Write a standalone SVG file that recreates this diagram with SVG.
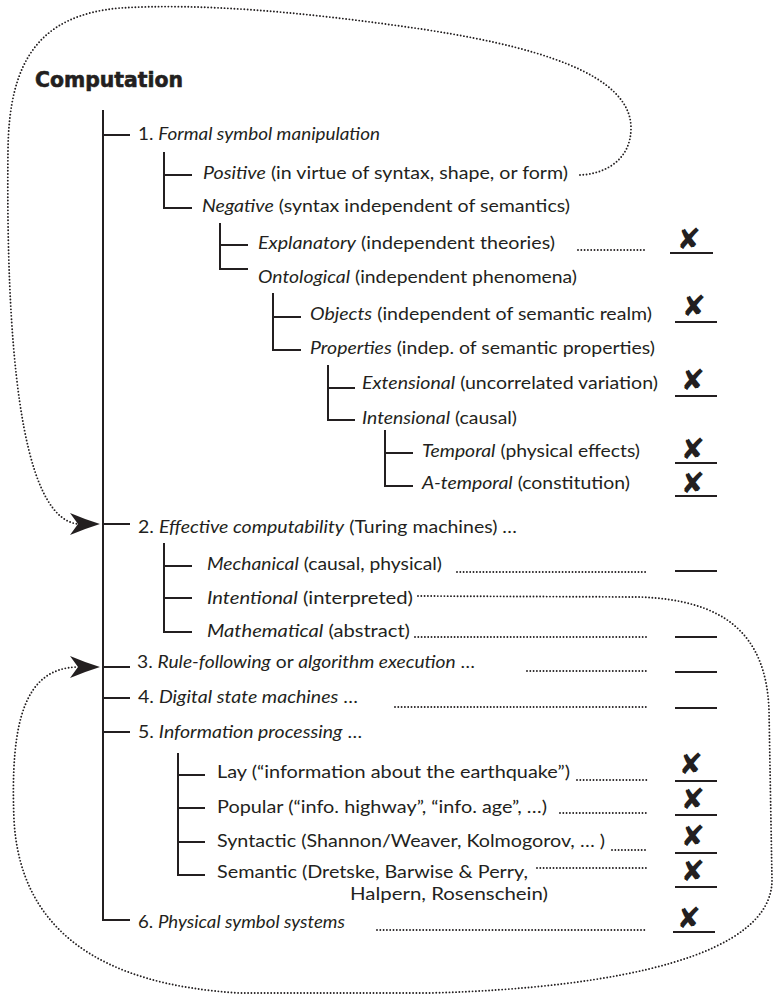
<svg xmlns="http://www.w3.org/2000/svg" width="776" height="994" viewBox="0 0 776 994">
<style>
.t{font-family:Lato,"Open Sans","Liberation Sans",sans-serif;font-size:17px;fill:#231f20}
.i{font-style:italic}
.title{font-family:"DejaVu Sans","Liberation Sans",sans-serif;font-weight:bold;font-size:21px;fill:#231f20;stroke:#231f20;stroke-width:0.6}
.tree{stroke:#231f20;stroke-width:2;fill:none}
.dot{stroke:#231f20;stroke-width:1.9;stroke-dasharray:0 3.3;stroke-linecap:round;fill:none}
.ul{stroke:#231f20;stroke-width:2}
.x{font-family:"DejaVu Sans",sans-serif;font-size:29px;text-anchor:middle;fill:#231f20}
</style>
<defs>
<marker id="arr" markerUnits="userSpaceOnUse" viewBox="0 0 30 22" refX="8" refY="11" markerWidth="30" markerHeight="22" orient="0">
<path d="M30,11 Q14,6 0,0 L8,11 L0,22 Q14,16 30,11 Z" fill="#231f20"/>
</marker>
</defs>
<rect width="776" height="994" fill="#fff"/>

<g id="connectors">
<path class="tree" d="M103,110 V920 H130 M103,135 H130 M103,524 H130 M103,667 H130 M103,698 H130 M103,732 H130"/>
<path class="tree" d="M164,152 V208 H192 M164,175 H192"/>
<path class="tree" d="M220,223 V269 H248 M220,245 H248"/>
<path class="tree" d="M273,293 V350 H301 M273,317 H301"/>
<path class="tree" d="M328,365 V420 H355 M328,388 H355"/>
<path class="tree" d="M385,430 V486 H413 M385,453 H413"/>
<path class="tree" d="M164,543 V632 H192 M164,566 H192 M164,598 H192"/>
<path class="tree" d="M178,753 V875 H205 M178,775 H205 M178,808 H205 M178,842 H205"/>
<path class="dot" marker-end="url(#arr)" d="M580,175 C605,174 631,160 631,128 C631,75 540,45 400,26 C300,12 200,3 120,8 C40,15 9,60 8,150 C6,330 18,518 78,524"/>
<path class="dot" marker-end="url(#arr)" d="M418,596 L640,597 C720,600 766,630 769,710 L772,880 C772,955 620,988 430,993 L240,993 C100,985 20,930 14,820 C10,720 25,668 78,667"/>
</g>

<g id="title"><text class="title" x="35" y="87" textLength="148" lengthAdjust="spacingAndGlyphs">Computation</text></g>

<g id="n1"><text class="t" x="138" y="140" textLength="242" lengthAdjust="spacingAndGlyphs">1. <tspan class="i">Formal symbol manipulation</tspan></text></g>
<g id="n1a"><text class="t" x="203" y="179" textLength="365" lengthAdjust="spacingAndGlyphs"><tspan class="i">Positive</tspan> (in virtue of syntax, shape, or form)</text></g>
<g id="n1b"><text class="t" x="202" y="212" textLength="368" lengthAdjust="spacingAndGlyphs"><tspan class="i">Negative</tspan> (syntax independent of semantics)</text></g>
<g id="n1b1"><text class="t" x="258" y="249" textLength="297" lengthAdjust="spacingAndGlyphs"><tspan class="i">Explanatory</tspan> (independent theories)</text>
<path class="dot" d="M578,250 H647"/><line class="ul" x1="670" y1="253" x2="713" y2="253"/><text class="x" x="689" y="249">✘</text></g>
<g id="n1b2"><text class="t" x="258" y="283" textLength="319" lengthAdjust="spacingAndGlyphs"><tspan class="i">Ontological</tspan> (independent phenomena)</text></g>
<g id="n1b2a"><text class="t" x="310" y="320" textLength="342" lengthAdjust="spacingAndGlyphs"><tspan class="i">Objects</tspan> (independent of semantic realm)</text>
<line class="ul" x1="675" y1="322" x2="717" y2="322"/><text class="x" x="694" y="316">✘</text></g>
<g id="n1b2b"><text class="t" x="310" y="354" textLength="345" lengthAdjust="spacingAndGlyphs"><tspan class="i">Properties</tspan> (indep. of semantic properties)</text></g>
<g id="n1b2b1"><text class="t" x="362" y="389" textLength="296" lengthAdjust="spacingAndGlyphs"><tspan class="i">Extensional</tspan> (uncorrelated variation)</text>
<line class="ul" x1="675" y1="396" x2="717" y2="396"/><text class="x" x="693" y="390">✘</text></g>
<g id="n1b2b2"><text class="t" x="362" y="424" textLength="155" lengthAdjust="spacingAndGlyphs"><tspan class="i">Intensional</tspan> (causal)</text></g>
<g id="n1b2b2a"><text class="t" x="422" y="457" textLength="218" lengthAdjust="spacingAndGlyphs"><tspan class="i">Temporal</tspan> (physical effects)</text>
<line class="ul" x1="675" y1="463" x2="717" y2="463"/><text class="x" x="693" y="459">✘</text></g>
<g id="n1b2b2b"><text class="t" x="422" y="489" textLength="208" lengthAdjust="spacingAndGlyphs"><tspan class="i">A-temporal</tspan> (constitution)</text>
<line class="ul" x1="675" y1="496" x2="717" y2="496"/><text class="x" x="693" y="493">✘</text></g>

<g id="n2"><text class="t" x="138" y="533" textLength="379" lengthAdjust="spacingAndGlyphs">2. <tspan class="i">Effective computability</tspan> (Turing machines) …</text></g>
<g id="n2a"><text class="t" x="207" y="570" textLength="235" lengthAdjust="spacingAndGlyphs"><tspan class="i">Mechanical</tspan> (causal, physical)</text>
<path class="dot" d="M457,572 H647"/><line class="ul" x1="675" y1="571" x2="717" y2="571"/></g>
<g id="n2b"><text class="t" x="207" y="604" textLength="206" lengthAdjust="spacingAndGlyphs"><tspan class="i">Intentional</tspan> (interpreted)</text></g>
<g id="n2c"><text class="t" x="207" y="637" textLength="203" lengthAdjust="spacingAndGlyphs"><tspan class="i">Mathematical</tspan> (abstract)</text>
<path class="dot" d="M415,637 H647"/><line class="ul" x1="675" y1="637" x2="717" y2="637"/></g>

<g id="n3"><text class="t" x="137" y="668" textLength="338" lengthAdjust="spacingAndGlyphs">3. <tspan class="i">Rule-following</tspan> or <tspan class="i">algorithm execution</tspan> …</text>
<path class="dot" d="M527,671 H647"/><line class="ul" x1="675" y1="672" x2="717" y2="672"/></g>
<g id="n4"><text class="t" x="138" y="703" textLength="220" lengthAdjust="spacingAndGlyphs">4. <tspan class="i">Digital state machines</tspan> …</text>
<path class="dot" d="M395,707 H647"/><line class="ul" x1="675" y1="708" x2="717" y2="708"/></g>
<g id="n5"><text class="t" x="138" y="738" textLength="224" lengthAdjust="spacingAndGlyphs">5. <tspan class="i">Information processing</tspan> …</text></g>
<g id="n5a"><text class="t" x="217" y="778" textLength="353" lengthAdjust="spacingAndGlyphs">Lay (“information about the earthquake”)</text>
<path class="dot" d="M577,780 H647"/><line class="ul" x1="675" y1="781" x2="717" y2="781"/><text class="x" x="691" y="774">✘</text></g>
<g id="n5b"><text class="t" x="217" y="813" textLength="330" lengthAdjust="spacingAndGlyphs">Popular (“info. highway”, “info. age”, …)</text>
<path class="dot" d="M560,813 H647"/><line class="ul" x1="675" y1="815" x2="717" y2="815"/><text class="x" x="693" y="809">✘</text></g>
<g id="n5c"><text class="t" x="217" y="847" textLength="388" lengthAdjust="spacingAndGlyphs">Syntactic (Shannon/Weaver, Kolmogorov, … )</text>
<path class="dot" d="M612,850 H647"/><line class="ul" x1="675" y1="853" x2="717" y2="853"/><text class="x" x="693" y="846">✘</text></g>
<g id="n5d"><text class="t" x="217" y="878" textLength="311" lengthAdjust="spacingAndGlyphs">Semantic (Dretske, Barwise &amp; Perry,</text>
<text class="t" x="350" y="900" textLength="198" lengthAdjust="spacingAndGlyphs">Halpern, Rosenschein)</text>
<path class="dot" d="M537,868 H647"/><line class="ul" x1="675" y1="887" x2="717" y2="887"/><text class="x" x="693" y="881">✘</text></g>
<g id="n6"><text class="t" x="138" y="928" textLength="207" lengthAdjust="spacingAndGlyphs">6. <tspan class="i">Physical symbol systems</tspan></text>
<path class="dot" d="M377,930 H647"/><line class="ul" x1="673" y1="932" x2="715" y2="932"/><text class="x" x="689" y="928">✘</text></g>
</svg>
